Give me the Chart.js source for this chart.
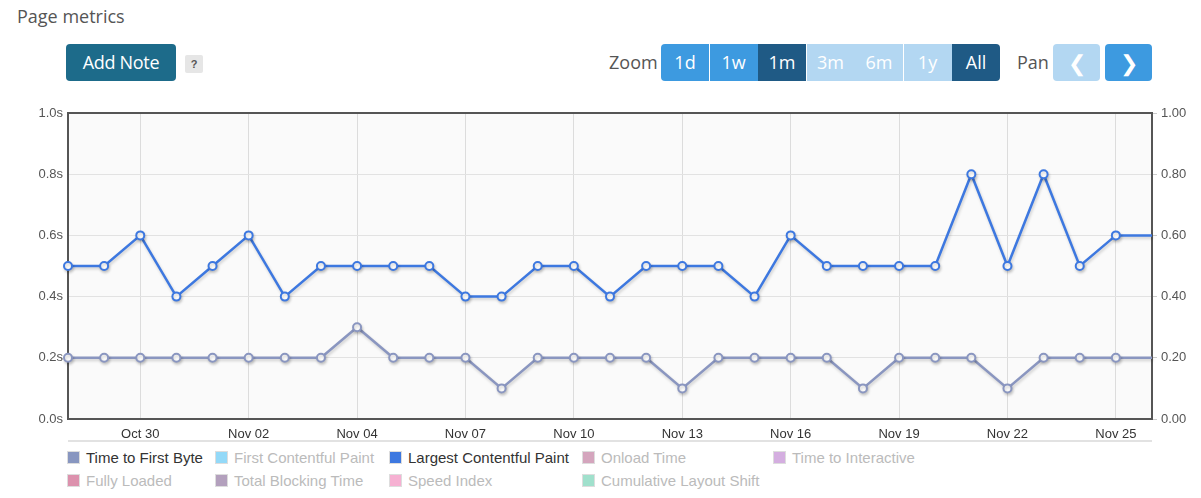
<!DOCTYPE html>
<html>
<head>
<meta charset="utf-8">
<script src="https://cdn.jsdelivr.net/npm/chart.js@4.4.0/dist/chart.umd.min.js"></script>
<style>
  body { margin: 0; width: 1201px; height: 498px; background: #fff; position: relative; overflow: hidden; font-family: "Open Sans", Arial, sans-serif; }
  .abs { position: absolute; }
  #title { left: 17px; top: 4px; font-size: 18px; color: #555; }
  .btn { position: absolute; top: 44px; height: 37px; line-height: 37px; text-align: center; color: #fff; font-size: 18px; }
  #addNote { left: 66px; width: 110px; background: #1d6b8a; border-radius: 4px; letter-spacing: -0.3px; }
  #help { left: 185px; top: 55px; width: 18px; height: 18px; line-height: 18px; background: #e6e6e6; color: #555; font-size: 11px; font-weight: bold; text-align: center; border-radius: 2px; font-family: Arial, sans-serif; }
  .lbl { position: absolute; top: 44px; line-height: 37px; font-size: 18px; color: #555; }
  #chartBox { left: 0; top: 100px; width: 1201px; height: 347px; }
  #scroll { left: 68px; top: 440px; width: 1084px; height: 2px; background: #e2e2e2; }
  .leg { position: absolute; font-family: Arial, "Liberation Sans", sans-serif; font-size: 15px; white-space: nowrap; }
  .leg i { display: inline-block; width: 11px; height: 11px; border: 1px solid #ddd; vertical-align: -1px; margin-right: 6px; }
</style>
</head>
<body>
<div id="title" class="abs">Page metrics</div>
<div id="addNote" class="btn">Add Note</div>
<div id="help" class="abs">?</div>
<div class="lbl" style="left:609px">Zoom</div>
<div id="zoomBtns"></div>
<div class="lbl" style="left:1017px">Pan</div>
<div class="btn" style="left:1053px;width:47px;background:#b3d7f2;border-radius:4px;font-size:22px">&#10094;</div>
<div class="btn" style="left:1105px;width:47px;background:#3d9ae0;border-radius:4px;font-size:22px">&#10095;</div>
<div id="chartBox" class="abs"><canvas id="metricsChart"></canvas></div>
<div id="scroll" class="abs"></div>
<div id="legend"></div>
<script>
// data: one point per day, index 0 = first run
const lcpValues  = [0.5, 0.5, 0.6, 0.4, 0.5, 0.6, 0.4, 0.5, 0.5, 0.5, 0.5, 0.4, 0.4, 0.5, 0.5, 0.4,
                    0.5, 0.5, 0.5, 0.4, 0.6, 0.5, 0.5, 0.5, 0.5, 0.8, 0.5, 0.8, 0.5, 0.6, 0.6];
const ttfbValues = [0.2, 0.2, 0.2, 0.2, 0.2, 0.2, 0.2, 0.2, 0.3, 0.2, 0.2, 0.2, 0.1, 0.2, 0.2, 0.2,
                    0.2, 0.1, 0.2, 0.2, 0.2, 0.2, 0.1, 0.2, 0.2, 0.2, 0.1, 0.2, 0.2, 0.2, 0.2];
const dateTickIdx = [2, 5, 8, 11, 14, 17, 20, 23, 26, 29];
const dateLabels  = ['Oct 30', 'Nov 02', 'Nov 04', 'Nov 07', 'Nov 10', 'Nov 13', 'Nov 16', 'Nov 19', 'Nov 22', 'Nov 25'];
const zoomLabels  = ['1d', '1w', '1m', '3m', '6m', '1y', 'All'];
const zoomColors  = ['#3d9ae0', '#3d9ae0', '#1f5a85', '#b3d7f2', '#b3d7f2', '#b3d7f2', '#1f5a85'];
const legendNames = ['Time to First Byte', 'First Contentful Paint', 'Largest Contentful Paint', 'Onload Time', 'Time to Interactive',
                     'Fully Loaded', 'Total Blocking Time', 'Speed Index', 'Cumulative Layout Shift'];
const legendColors = ['#8896c0', '#93d9f8', '#3d78e0', '#d4a5bd', '#d4aee0', '#dc91ad', '#b3a0bd', '#f6b0d2', '#a0e0cc'];
const legendOn     = [true, false, true, false, false, false, false, false, false];

// zoom buttons
const zb = document.getElementById('zoomBtns');
zoomLabels.forEach((t, i) => {
  const d = document.createElement('div');
  d.className = 'btn';
  d.textContent = t;
  d.style.left = (661 + i * 48.5) + 'px';
  d.style.width = '48px';
  d.style.background = zoomColors[i];
  if (i === 0) d.style.borderRadius = '4px 0 0 4px';
  if (i === zoomLabels.length - 1) d.style.borderRadius = '0 4px 4px 0';
  zb.appendChild(d);
});

// legend, two rows
const legX = [67, 215, 389, 582, 773];
const leg = document.getElementById('legend');
legendNames.forEach((n, i) => {
  const row = i < 5 ? 0 : 1;
  const col = row === 0 ? i : i - 5;
  const d = document.createElement('div');
  d.className = 'leg';
  d.style.left = legX[col] + 'px';
  d.style.top = (449 + row * 23) + 'px';
  d.style.color = legendOn[i] ? '#333' : '#bbb';
  d.innerHTML = '<i style="background:' + legendColors[i] + '"></i>' + n;
  leg.appendChild(d);
});

const plotFrame = {
  id: 'plotFrame',
  beforeDraw(chart) {
    const { ctx, chartArea: a } = chart;
    ctx.save();
    ctx.fillStyle = '#fafafa';
    ctx.fillRect(a.left, a.top, a.right - a.left, a.bottom - a.top);
    ctx.restore();
  },
  beforeDatasetsDraw(chart) {
    const { ctx, chartArea: a } = chart;
    ctx.save();
    ctx.strokeStyle = '#555';
    ctx.lineWidth = 2;
    ctx.strokeRect(a.left, a.top, a.right - a.left, a.bottom - a.top);
    ctx.restore();
  },
  beforeDatasetDraw(chart) {
    const ctx = chart.ctx;
    ctx.save();
    ctx.shadowColor = 'rgba(0,0,0,0.18)';
    ctx.shadowOffsetX = 1;
    ctx.shadowOffsetY = 2;
    ctx.shadowBlur = 3;
  },
  afterDatasetDraw(chart) {
    chart.ctx.restore();
  }
};

const lastIdx = lcpValues.length - 1;
const radius = (c) => c.dataIndex === lastIdx ? 0 : 4;
const toXY = (arr) => arr.map((v, i) => ({ x: i, y: v }));
const tickFont = { family: 'Arial, "Liberation Sans"', size: 13 };

const ctx = document.getElementById('metricsChart').getContext('2d');
const metricsChart = new Chart(ctx, {
  type: 'line',
  data: {
    datasets: [
      {
        label: 'Largest Contentful Paint',
        data: toXY(lcpValues),
        borderColor: '#3d78e0',
        backgroundColor: '#fff',
        borderWidth: 2.5,
        pointRadius: radius,
        pointBorderWidth: 2,
        pointBackgroundColor: '#fff',
        pointBorderColor: '#3d78e0',
        clip: false,
        yAxisID: 'y'
      },
      {
        label: 'Time to First Byte',
        data: toXY(ttfbValues),
        borderColor: '#8a96c0',
        backgroundColor: '#fff',
        borderWidth: 2.5,
        pointRadius: radius,
        pointBorderWidth: 2,
        pointBackgroundColor: '#fff',
        pointBorderColor: '#8a96c0',
        clip: false,
        yAxisID: 'y'
      }
    ]
  },
  options: {
    responsive: true,
    maintainAspectRatio: false,
    animation: false,
    layout: { padding: { top: 13 } },
    scales: {
      x: {
        type: 'linear',
        min: 0,
        max: lastIdx,
        afterBuildTicks: (s) => { s.ticks = dateTickIdx.map(v => ({ value: v })); },
        afterFit: (s) => { s.height = 28; },
        ticks: {
          color: '#333',
          font: tickFont,
          padding: 8,
          maxRotation: 0,
          autoSkip: false,
          callback: (v) => dateLabels[dateTickIdx.indexOf(v)]
        },
        grid: { color: '#dcdcdc', drawTicks: false },
        border: { display: false }
      },
      y: {
        position: 'left',
        min: 0,
        max: 1,
        afterFit: (s) => { s.width = 68; },
        ticks: {
          stepSize: 0.2,
          color: '#555',
          font: tickFont,
          padding: 5,
          callback: (v) => v.toFixed(1) + 's'
        },
        grid: { color: '#e2e2e2', drawTicks: false },
        border: { display: false }
      },
      y2: {
        position: 'right',
        min: 0,
        max: 1,
        afterFit: (s) => { s.width = 49; },
        ticks: {
          stepSize: 0.2,
          color: '#555',
          font: tickFont,
          padding: 4,
          callback: (v) => v.toFixed(2)
        },
        grid: { drawOnChartArea: false, drawTicks: true, tickLength: 5, color: '#ccc' },
        border: { display: false }
      }
    },
    plugins: {
      legend: { display: false },
      tooltip: { enabled: false }
    }
  },
  plugins: [plotFrame]
});
</script>
</body>
</html>
